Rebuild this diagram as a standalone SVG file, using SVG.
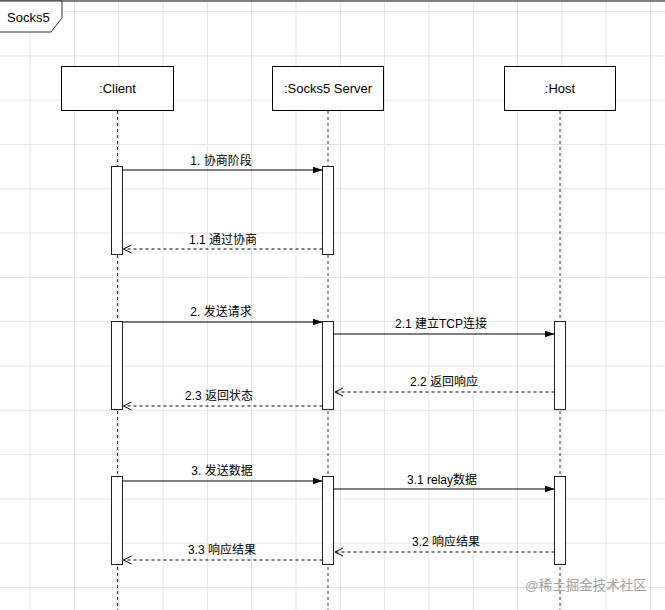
<svg xmlns="http://www.w3.org/2000/svg" width="665" height="610" viewBox="0 0 665 610">
<style>
  text { font-family: "Liberation Sans", "Noto Sans CJK SC", sans-serif; fill: #000; }
  .box { fill: #fff; stroke: #000; stroke-width: 1; }
  .bar { fill: #fff; stroke: #222; stroke-width: 1; }
  .life { stroke: #333; stroke-width: 1; stroke-dasharray: 3 3; fill: none; }
  .msg { stroke: #000; stroke-width: 1; fill: none; }
  .ret { stroke: #000; stroke-width: 1; fill: none; stroke-dasharray: 3 3; }
  .lbl { font-size: 12px; text-anchor: middle; }
  .name { font-size: 13px; text-anchor: middle; }
</style>
<defs>
  <pattern id="grid" x="29.7" y="11.1" width="44.3" height="44.3" patternUnits="userSpaceOnUse">
    <path d="M0 0.5 H44.3 M0.5 0 V44.3" stroke="#e3e3e3" stroke-width="1" fill="none"/>
  </pattern>
  <marker id="block" markerUnits="userSpaceOnUse" markerWidth="11" markerHeight="8" refX="10" refY="3.5" orient="auto">
    <path d="M0 0 L10 3.5 L0 7 Z" fill="#000"/>
  </marker>
  <marker id="open" markerUnits="userSpaceOnUse" markerWidth="10" markerHeight="10" refX="8.5" refY="4.5" orient="auto">
    <path d="M0.5 0.5 L8.5 4.5 L0.5 8.5" fill="none" stroke="#000" stroke-width="1"/>
  </marker>
</defs>
<rect x="0" y="0" width="665" height="610" fill="#fff"/>
<rect x="0" y="0" width="665" height="610" fill="url(#grid)"/>

<g id="frame">
  <line x1="0" y1="1" x2="665" y2="1" stroke="#555" stroke-width="1.5"/>
  <path d="M-1 1 H62 V18 L51 32 H-1 Z" fill="#fff" stroke="#333" stroke-width="1"/>
  <text x="7" y="22" font-size="13">Socks5</text>
</g>

<g id="lifelines">
  <line class="life" x1="117.5" y1="111" x2="117.5" y2="610"/>
  <line class="life" x1="328" y1="111" x2="328" y2="610"/>
  <line class="life" x1="560" y1="111" x2="560" y2="610"/>
</g>

<g id="client">
  <rect class="box" x="61.5" y="66.5" width="112" height="44"/>
  <text class="name" x="117.5" y="93">:Client</text>
</g>
<g id="server">
  <rect class="box" x="272.5" y="66.5" width="111" height="44"/>
  <text class="name" x="328" y="93">:Socks5 Server</text>
</g>
<g id="host">
  <rect class="box" x="504.5" y="66.5" width="111" height="44"/>
  <text class="name" x="560" y="93">:Host</text>
</g>

<g id="activations">
  <rect class="bar" x="111.5" y="166.5" width="11" height="88"/>
  <rect class="bar" x="322.5" y="166.5" width="11" height="88"/>
  <rect class="bar" x="111.5" y="321.5" width="11" height="88"/>
  <rect class="bar" x="322.5" y="321.5" width="11" height="88"/>
  <rect class="bar" x="554.5" y="321.5" width="11" height="88"/>
  <rect class="bar" x="111.5" y="476.5" width="11" height="88"/>
  <rect class="bar" x="322.5" y="476.5" width="11" height="88"/>
  <rect class="bar" x="554.5" y="476.5" width="11" height="88"/>
</g>

<g id="connectors">
  <line class="msg" x1="122.5" y1="170" x2="322.5" y2="170" marker-end="url(#block)"/>
  <text class="lbl" x="221" y="165">1. 协商阶段</text>
  <line class="ret" x1="322.5" y1="249" x2="123.5" y2="249" marker-end="url(#open)"/>
  <text class="lbl" x="223" y="244">1.1 通过协商</text>

  <line class="msg" x1="122.5" y1="322" x2="322.5" y2="322" marker-end="url(#block)"/>
  <text class="lbl" x="221" y="316">2. 发送请求</text>
  <line class="msg" x1="333.5" y1="334" x2="554.5" y2="334" marker-end="url(#block)"/>
  <text class="lbl" x="441" y="328">2.1 建立TCP连接</text>
  <line class="ret" x1="554.5" y1="392" x2="335" y2="392" marker-end="url(#open)"/>
  <text class="lbl" x="444" y="386">2.2 返回响应</text>
  <line class="ret" x1="322.5" y1="406" x2="123.5" y2="406" marker-end="url(#open)"/>
  <text class="lbl" x="219" y="400">2.3 返回状态</text>

  <line class="msg" x1="122.5" y1="481" x2="322.5" y2="481" marker-end="url(#block)"/>
  <text class="lbl" x="222" y="475">3. 发送数据</text>
  <line class="msg" x1="333.5" y1="489" x2="554.5" y2="489" marker-end="url(#block)"/>
  <text class="lbl" x="442" y="484">3.1 relay数据</text>
  <line class="ret" x1="554.5" y1="552" x2="335" y2="552" marker-end="url(#open)"/>
  <text class="lbl" x="446" y="546">3.2 响应结果</text>
  <line class="ret" x1="322.5" y1="560" x2="123.5" y2="560" marker-end="url(#open)"/>
  <text class="lbl" x="222" y="554">3.3 响应结果</text>
</g>

<text x="525" y="590" font-size="13.5" fill="#a3a3a3" style="fill:#a3a3a3">@稀土掘金技术社区</text>
</svg>
